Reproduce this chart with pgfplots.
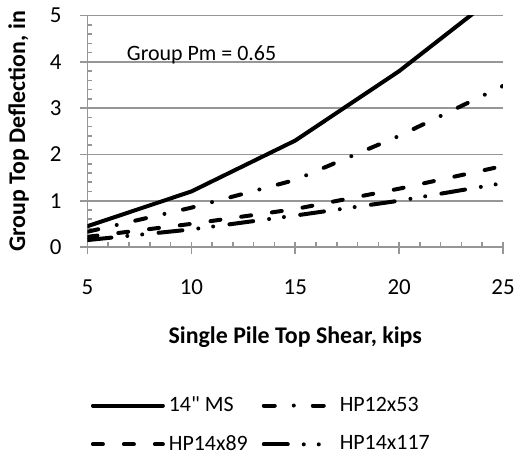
\documentclass[border=0pt]{standalone}
\usepackage{fontspec}
\setmainfont{Carlito}
\newfontfamily\rawfont{Carlito}[Ligatures=TeXOff]
\usepackage{pgfplots}
\pgfplotsset{compat=1.18}
\definecolor{gridgray}{RGB}{150,150,150}
\begin{document}
\begin{tikzpicture}
\path[use as bounding box] (-43.75bp,-106bp) rectangle (214.25bp,123.5bp);
\begin{axis}[
  scale only axis,
  width=207.75bp, height=115.7bp,
  xmin=5, xmax=25, ymin=0, ymax=5,
  axis x line=bottom, axis y line=left,
  axis line style={draw=gridgray, line width=0.8bp, -},
  xtick={5,10,15,20,25}, ytick={0,1,2,3,4,5},
  minor x tick num=4, minor y tick num=4,
  tick align=inside,
  major tick length=2.5bp, minor tick length=2.5bp,
  tick style={draw=gridgray, line width=0.8bp},
  extra x ticks={5,10,15,20,25}, extra x tick labels={},
  extra y ticks={0,1,2,3,4,5}, extra y tick labels={},
  extra tick style={tick align=outside, major tick length=3.5bp, grid=none},
  ymajorgrids,
  grid style={draw=gridgray, line width=0.8bp},
  font=\fontsize{11}{13}\selectfont,
  /pgf/number format/assume math mode=true,
  ticklabel style={font=\fontsize{11.5}{13}\selectfont},
  yticklabel style={xshift=-9.5bp},
  xticklabel style={yshift=-13bp},
  xlabel={\textbf{Single Pile Top Shear, kips}},
  ylabel={\textbf{Group Top Deflection, in}},
  label style={font=\fontsize{12}{14}\selectfont},
  xlabel style={at={(axis description cs:0.5,0)}, anchor=center, yshift=-45bp},
  ylabel style={at={(axis description cs:0,0.5)}, anchor=center, yshift=34.5bp},
  legend columns=2,
  legend cell align=left,
  legend style={draw=none, inner sep=0pt, at={(axis description cs:0,0)}, anchor=west,
    xshift=1.5bp, yshift=-89bp,
    font=\fontsize{11}{13}\selectfont,
    /tikz/every even column/.append style={column sep=5bp},
    row sep=6.5bp},
  legend image code/.code={\draw[#1] (0bp,0bp) -- (35bp,0bp);},
  every axis plot/.append style={line width=2bp, black, line cap=round, line join=round},
]
\addplot[solid, no marks] coordinates {(5,0.45) (10,1.2) (15,2.3) (20,3.8) (25,5.55)};
\addlegendentry{14{\rawfont"} MS}
\addplot[no marks, dash pattern=on 5.5bp off 9.5bp on 0bp off 9.5bp] coordinates {(5,0.33) (10,0.85) (15,1.45) (20,2.4) (25,3.48)};
\addlegendentry{HP12x53}
\addplot[no marks, dash pattern=on 5bp off 10.5bp] coordinates {(5,0.22) (10,0.5) (15,0.82) (20,1.26) (25,1.75)};
\addlegendentry{HP14x89}
\addplot[no marks, dash pattern=on 12bp off 8bp on 0bp off 7.5bp on 0bp off 8.2bp] coordinates {(5,0.15) (10,0.38) (15,0.68) (20,1.0) (25,1.38)};
\addlegendentry{HP14x117}
\node[anchor=west, inner sep=0pt, font=\fontsize{11}{13}\selectfont] at (axis cs:6.88,4.15) {Group Pm = 0.65};
\end{axis}
\end{tikzpicture}
\end{document}
